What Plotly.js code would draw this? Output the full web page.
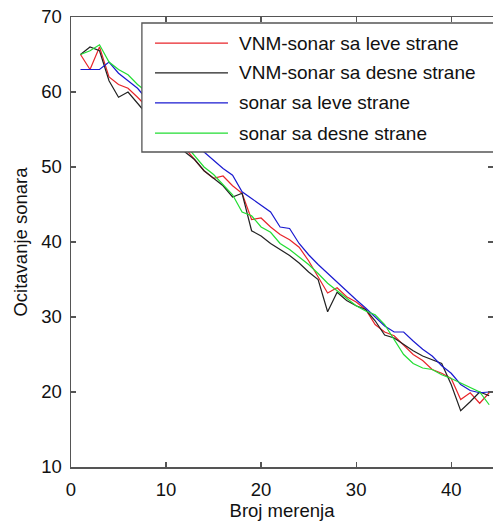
<!DOCTYPE html>
<html>
<head>
<meta charset="utf-8">
<script src="https://cdn.plot.ly/plotly-3.0.1.min.js"></script>
<style>html,body{margin:0;padding:0;background:#fff;}#chart{width:493px;height:525px;}</style>
</head>
<body>
<div id="chart"></div>
<script>
// Measurement index
const xValues = [1,2,3,4,5,6,7,8,9,10,11,12,13,14,15,16,17,18,19,20,21,22,23,24,25,26,27,28,29,30,31,32,33,34,35,36,37,38,39,40,41,42,43,44];

// Series values
const vnmLeft  = [65,63,66,62,61,60.5,59.3,58,57,55.5,54.5,52.5,51,49.5,48.5,48.8,47.5,46.5,43,43.2,42,41,40.3,39.3,37.5,35.3,33.2,33.9,32.7,32,31,29,28,27.5,26.3,25,24.2,23,22.5,21.8,19,19.9,18.5,19.9];
const vnmRight = [65,66,65.5,61.5,59.3,60,58.5,57,56,55,53.5,52,51,49.5,48.5,47.5,46,46.5,41.5,40.8,39.8,39,38.2,37.2,36,35,30.7,33.3,32.2,31.5,31,29.5,27.6,27.2,26.3,25.5,24.8,24.3,23.8,21,17.5,18.7,20,19.5];
const sonarLeft  = [63,63,63,64,62.5,61.5,60.5,59,58,57,56,54.5,53,52,50.9,49.8,48.9,46.7,45.8,44.9,44,42,41.8,39.8,38.3,37,35.8,34.6,33.5,32.3,31.2,30,28.8,28,28,26.8,25.7,24.8,23.5,22.5,21,20.2,19.9,20];
const sonarRight = [65,65.5,66.3,64,63,62.3,61,60,58.5,57,55.5,53,51.5,50,49,47.6,46.3,44,43.5,42,41.3,39.8,39,38,37,35.8,34.5,33.5,32.5,31.5,30.8,30.3,29,27,25,23.8,23.2,23,22.3,21.8,21.2,20.6,20,18.3];

const seriesNames  = ["VNM-sonar sa leve strane","VNM-sonar sa desne strane","sonar sa leve strane","sonar sa desne strane"];
const seriesColors = ["#e8242a","#222222","#1a1ad0","#22dd33"];
const seriesValues = [vnmLeft, vnmRight, sonarLeft, sonarRight];

const xTicks = [0,10,20,30,40];
const yTicks = [10,20,30,40,50,60,70];

const traces = seriesValues.map((v,i)=>({
  x: xValues, y: v, type:'scatter', mode:'lines', name: seriesNames[i],
  line:{color: seriesColors[i], width:1.2}, showlegend:false
}));

// custom legend (MATLAB-style long line samples)
const legRowY = [0.942,0.876,0.809,0.742];
const shapes = [{
  type:'rect', xref:'paper', yref:'paper', x0:0.168, x1:1.05, y0:0.70, y1:0.9867,
  fillcolor:'#ffffff', line:{color:'#555555', width:1.3}, layer:'above'
}];
const annotations = [];
seriesNames.forEach((n,i)=>{
  shapes.push({type:'line', xref:'paper', yref:'paper', x0:0.199, x1:0.372, y0:legRowY[i], y1:legRowY[i],
    line:{color:seriesColors[i], width:1.2}, layer:'above'});
  annotations.push({xref:'paper', yref:'paper', x:0.393, y:legRowY[i], xanchor:'left', yanchor:'middle',
    text:n, showarrow:false, font:{family:'Liberation Sans, Arial, sans-serif', size:19, color:'#111'}});
});

const layout = {
  width:493, height:525,
  margin:{l:71, r:0, t:17, b:58},
  paper_bgcolor:'#ffffff', plot_bgcolor:'#ffffff',
  font:{family:'Liberation Sans, Arial, sans-serif', size:18.5, color:'#111'},
  xaxis:{
    range:[0,44.4], tickvals:xTicks, ticktext:xTicks.map(String),
    ticks:'inside', ticklen:5, tickcolor:'#555', tickwidth:1.2,
    showline:true, linecolor:'#555', linewidth:1.5, mirror:'ticks',
    showgrid:false, zeroline:false, ticklabelstandoff:5,
    title:{text:'Broj merenja', font:{size:18.5}, standoff:5}
  },
  yaxis:{
    range:[10,70], tickvals:yTicks, ticktext:yTicks.map(String),
    ticks:'inside', ticklen:5, tickcolor:'#555', tickwidth:1.2,
    showline:true, linecolor:'#555', linewidth:1.5, mirror:'ticks',
    showgrid:false, zeroline:false, ticklabelstandoff:4,
    title:{text:'Ocitavanje sonara', font:{size:18.5}, standoff:8}
  },
  shapes: shapes,
  annotations: annotations,
  showlegend:false
};

Plotly.newPlot('chart', traces, layout, {staticPlot:true, displayModeBar:false});
</script>
</body>
</html>
